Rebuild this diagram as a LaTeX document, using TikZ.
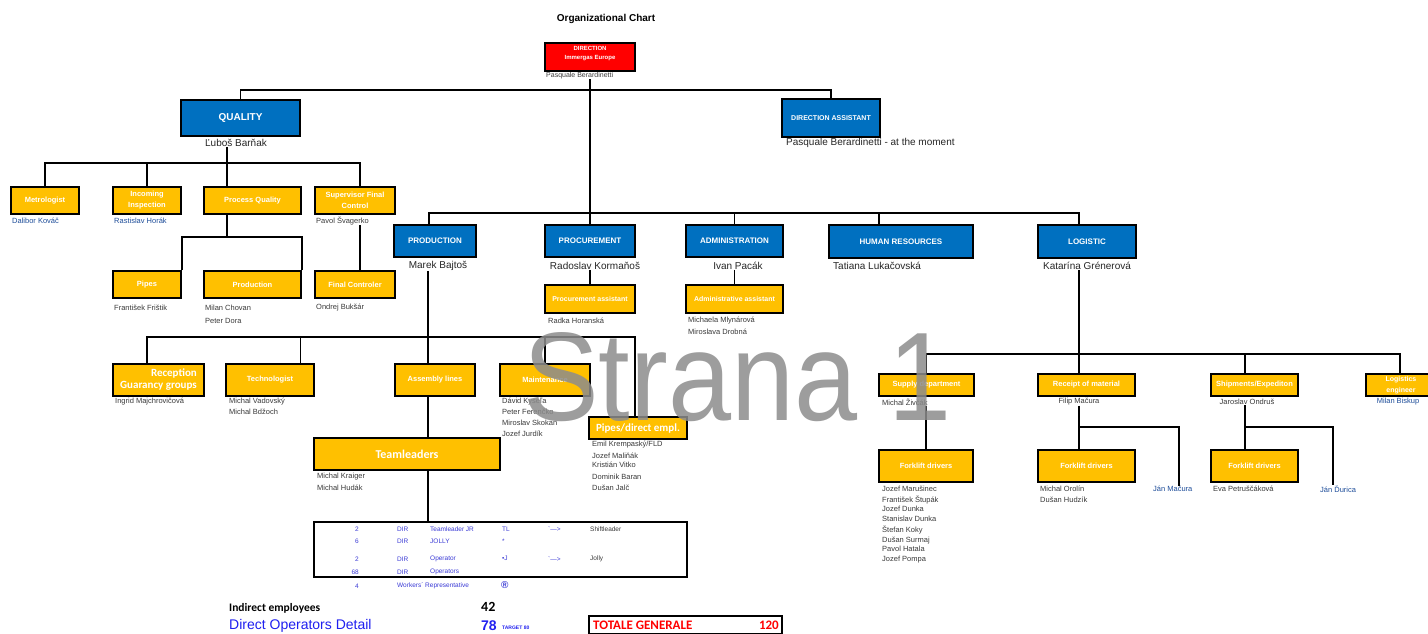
\documentclass[tikz,border=0pt]{standalone}
\usepackage{fontspec}
\setmainfont{Liberation Sans}
\newfontfamily\calibri{Carlito}
\usetikzlibrary{positioning}
\definecolor{boxyellow}{HTML}{FFC000}
\definecolor{boxblue}{HTML}{0070C0}
\definecolor{boxred}{HTML}{FF0000}
\definecolor{namegray}{HTML}{3A3A3A}
\definecolor{marknavy}{HTML}{1F4E9A}
\definecolor{tableblue}{HTML}{3B3BD6}
\definecolor{detailblue}{HTML}{2020F0}

\begin{document}
\begin{tikzpicture}[x=1pt, y=-1pt,
    chartbox/.style={draw=black, line width=2pt, inner sep=0pt, align=center, text=white},
    yellownode/.style={chartbox, fill=boxyellow, font=\bfseries\fontsize{7.5}{11}\selectfont},
    bluenode/.style={chartbox, fill=boxblue, font=\bfseries\fontsize{8}{10}\selectfont},
    namenode/.style={inner sep=0pt, anchor=west, text=namegray, font=\fontsize{7.5}{9}\selectfont},
    bluenamenode/.style={namenode, text=marknavy},
    headnamenode/.style={inner sep=0pt, text=black!85, font=\fontsize{10}{12}\selectfont},
    cellnode/.style={inner sep=0pt, anchor=west, text=tableblue, font=\fontsize{6.5}{8}\selectfont},
    orgline/.style={line width=1.6pt}
]
\useasboundingbox (0,0) rectangle (1428,633);
\fill[white] (0,0) rectangle (1428,633);

\node[inner sep=0pt, font=\bfseries\fontsize{10}{12}\selectfont] (title) at (606,19) {Organizational Chart};

% direction
\node[chartbox, fill=boxred, minimum width=90pt, minimum height=28pt, font=\bfseries\fontsize{6}{9}\selectfont] (dir) at (590,57) {DIRECTION\\Immergas Europe\\\mbox{}};
\node[namenode, font=\fontsize{7}{8}\selectfont] (dirname) at (546,76) {Pasquale Berardinetti};
\node[bluenode, minimum width=98pt, minimum height=38pt, font=\bfseries\fontsize{7}{9}\selectfont] (dirass) at (831,118) {DIRECTION ASSISTANT};
\node[headnamenode, anchor=west] (dirassname) at (786,143) {Pasquale Berardinetti - at the moment};
\node[bluenode, minimum width=119pt, minimum height=36pt, font=\bfseries\fontsize{10}{12}\selectfont] (quality) at (240.5,118) {QUALITY};
\node[headnamenode] (qname) at (236,143) {Ľuboš Barňak};

% quality
\node[yellownode, minimum width=68pt, minimum height=27pt] (metro) at (45,200.5) {Metrologist};
\node[yellownode, minimum width=68pt, minimum height=27pt] (incoming) at (147,200.5) {Incoming\\Inspection};
\node[yellownode, minimum width=97pt, minimum height=27pt] (procq) at (252.5,200.5) {Process Quality};
\node[yellownode, minimum width=80pt, minimum height=27pt] (superv) at (355,200.5) {Supervisor Final\\Control};
\node[bluenamenode] (metroname) at (12,221) {Dalibor Kováč};
\node[bluenamenode] (incname) at (114,221) {Rastislav Horák};
\node[namenode] (svname) at (316,221) {Pavol Švagerko};
\node[yellownode, minimum width=68pt, minimum height=27pt] (pipesq) at (147,284.5) {Pipes};
\node[yellownode, minimum width=97pt, minimum height=27pt] (prodq) at (252.5,284.5) {Production};
\node[yellownode, minimum width=80pt, minimum height=27pt] (finalc) at (355,284.5) {Final Controler};
\node[namenode] (pipesname) at (114,308) {František Frištik};
\node[namenode] (prodqname1) at (205,308) {Milan Chovan};
\node[namenode] (prodqname2) at (205,321) {Peter Dora};
\node[namenode] (finalname) at (316,308) {Ondrej Bukšár};

\coordinate (qbus) at (227,163);
\coordinate (pqbus) at (227,237);
\draw[orgline] (quality.north) |- (589,90) -| (dirass.north);
\draw[orgline] ([xshift=-9pt]qname.south) -- (qbus);
\draw[orgline] (metro.north) |- (qbus) -| ([xshift=5pt]superv.north);
\draw[orgline] (incoming.north) -- (incoming.north |- qbus);
\draw[orgline] (qbus) -- (qbus |- procq.north);
\draw[orgline] (qbus |- procq.south) -- (pqbus);
\draw[orgline] (pipesq.north east) |- (pqbus) -| (prodq.north east);
\draw[orgline] ([xshift=5pt]superv.south |- svname.south) -- ([xshift=5pt]finalc.north);

% departments
\node[bluenode, minimum width=82pt, minimum height=32pt] (production) at (435,241) {PRODUCTION};
\node[bluenode, minimum width=90pt, minimum height=32pt] (procurement) at (590,241) {PROCUREMENT};
\node[bluenode, minimum width=97pt, minimum height=32pt] (admin) at (734.5,241) {ADMINISTRATION};
\node[bluenode, minimum width=144pt, minimum height=33pt] (hr) at (901,241.5) {HUMAN RESOURCES};
\node[bluenode, minimum width=98pt, minimum height=33pt] (logistic) at (1087,241.5) {LOGISTIC};
\node[headnamenode] (prodname) at (438,266) {Marek Bajtoš};
\node[headnamenode] (procname) at (595,266) {Radoslav Kormaňoš};
\node[headnamenode] (adminname) at (738,266) {Ivan Pacák};
\node[headnamenode, anchor=west] (hrname) at (833,266) {Tatiana Lukačovská};
\node[headnamenode] (logname) at (1087,266) {Katarína Grénerová};
\node[yellownode, minimum width=90pt, minimum height=28pt, font=\bfseries\fontsize{7}{9}\selectfont] (procass) at (590,299) {Procurement assistant};
\node[yellownode, minimum width=97pt, minimum height=28pt, font=\bfseries\fontsize{7}{9}\selectfont] (adminass) at (734.5,299) {Administrative assistant};
\node[namenode] (procassname) at (548,321) {Radka Horanská};
\node[namenode] (adminassname1) at (688,321) {Michaela Mlynárová};
\node[namenode] (adminassname2) at (688,332) {Miroslava Drobná};

\coordinate (mbus) at (589,213);
\draw[orgline] (dir.south |- dirname.south) -- (procurement.north);
\draw[orgline] ([xshift=-6pt]production.north) |- (mbus) -| ([xshift=-8pt]logistic.north);
\draw[orgline] (admin.north) -- (admin.north |- mbus);
\draw[orgline] ([xshift=-22pt]hr.north) -- ([xshift=-22pt]hr.north |- mbus);
\draw[orgline] (procass.north |- procname.south) -- (procass.north);
\draw[orgline] (adminass.north |- adminname.south) -- (adminass.north);

% production
\node[yellownode, minimum width=91pt, minimum height=32pt, align=right, font=\calibri\bfseries\fontsize{11}{12}\selectfont] (reception) at (158.5,380) {Reception\\Guarancy groups};
\node[yellownode, minimum width=88pt, minimum height=32pt] (techno) at (270,380) {Technologist};
\node[yellownode, minimum width=80pt, minimum height=32pt] (assembly) at (435,380) {Assembly lines};
\node[yellownode, minimum width=90pt, minimum height=32pt] (mainten) at (545,380) {Maintenance};
\node[yellownode, minimum width=98pt, minimum height=22pt, font=\calibri\bfseries\fontsize{11}{12}\selectfont] (pipesd) at (638,428) {Pipes/direct empl.};
\node[yellownode, minimum width=186pt, minimum height=32pt, font=\calibri\bfseries\fontsize{12}{14}\selectfont] (teaml) at (407,454) {Teamleaders};
\node[namenode] (recname) at (115,402) {Ingrid Majchrovičová};
\node[namenode] (techname1) at (229,402) {Michal Vadovský};
\node[namenode] (techname2) at (229,412) {Michal Bdžoch};
\node[namenode] (maintname1) at (502,402) {Dávid Kyseľa};
\node[namenode] (maintname2) at (502,412) {Peter Ferenčko};
\node[namenode] (maintname3) at (502,423) {Miroslav Skokan};
\node[namenode] (maintname4) at (502,434) {Jozef Jurdík};
\node[namenode] (pipesdname1) at (592,445) {Emil Krempaský/FLD};
\node[namenode] (pipesdname2) at (592,456) {Jozef Maliňák};
\node[namenode] (pipesdname3) at (592,465) {Kristián Vitko};
\node[namenode] (pipesdname4) at (592,477) {Dominik Baran};
\node[namenode] (pipesdname5) at (592,488) {Dušan Jalč};
\node[namenode] (teamname1) at (317,477) {Michal Kraiger};
\node[namenode] (teamname2) at (317,488) {Michal Hudák};

\coordinate (pbus) at (428,337);
\draw[orgline] ([xshift=-7pt]assembly.north |- prodname.south) -- ([xshift=-7pt]assembly.north);
\draw[orgline] ([xshift=-11.5pt]reception.north) |- (pbus) -| ([xshift=-3pt]pipesd.north);
\draw[orgline] ([xshift=30.5pt]techno.north) -- ([xshift=30.5pt]techno.north |- pbus);
\draw[orgline] (mainten.north) -- (mainten.north |- pbus);
\draw[orgline] ([xshift=-7pt]assembly.south) -- ([xshift=-7pt]assembly.south |- teaml.north);

% direct operators
\node[draw, line width=2pt, inner sep=0pt, minimum width=373pt, minimum height=55pt] (table) at (500.5,549.5) {};
\draw[orgline] ([xshift=-7pt]assembly.south |- teaml.south) -- ([xshift=-7pt]assembly.south |- table.north);
\node[cellnode, anchor=east] (row1n) at (359,529) {2};
\node[cellnode] (row1d) at (397,529) {DIR};
\node[cellnode] (row1r) at (430,529) {Teamleader JR};
\node[cellnode] (row1m) at (502,529) {TL};
\node[cellnode] (row1a) at (548,529) {\textasciigrave{}---\textgreater{}};
\node[cellnode, text=namegray] (row1s) at (590,529) {Shiftleader};
\node[cellnode, anchor=east] (row2n) at (359,541) {6};
\node[cellnode] (row2d) at (397,541) {DIR};
\node[cellnode] (row2r) at (430,541) {JOLLY};
\node[cellnode] (row2m) at (502,541) {*};
\node[cellnode, anchor=east] (row3n) at (359,559) {2};
\node[cellnode] (row3d) at (397,559) {DIR};
\node[cellnode] (row3r) at (430,559) {Operator};
\node[cellnode] (row3m) at (502,558) {\textbullet J};
\node[cellnode] (row3a) at (548,559) {\textasciigrave{}---\textgreater{}};
\node[cellnode, text=namegray] (row3s) at (590,559) {Jolly};
\node[cellnode, anchor=east] (row4n) at (359,572) {68};
\node[cellnode] (row4d) at (397,572) {DIR};
\node[cellnode] (row4r) at (430,572) {Operators};
\node[cellnode, anchor=east] (row5n) at (359,586) {4};
\node[cellnode] (row5r) at (397,586) {Workers´ Representative};
\node[cellnode, font=\bfseries\fontsize{10}{12}\selectfont] (row5m) at (501,585) {®};

% totals
\node[inner sep=0pt, anchor=west, font=\calibri\bfseries\fontsize{11.5}{13}\selectfont] (indirect) at (229,608) {Indirect employees};
\node[inner sep=0pt, anchor=west, font=\calibri\bfseries\fontsize{14}{16}\selectfont] (indirectnum) at (481,607) {42};
\node[inner sep=0pt, anchor=west, text=detailblue, font=\fontsize{14}{16}\selectfont] (direct) at (229,626) {Direct Operators Detail};
\node[inner sep=0pt, anchor=west, text=detailblue, font=\bfseries\fontsize{14}{16}\selectfont] (directnum) at (481,626) {78};
\node[inner sep=0pt, anchor=west, text=detailblue, font=\bfseries\fontsize{5}{6}\selectfont] (target) at (502,628) {TARGET 80};
\node[draw, line width=2pt, inner sep=0pt, minimum width=193pt, minimum height=18pt] (totale) at (685.5,625) {};
\node[inner sep=0pt, anchor=west, text=boxred, font=\calibri\bfseries\fontsize{13}{15}\selectfont] (totaletext) at (593,625.5) {TOTALE GENERALE};
\node[inner sep=0pt, anchor=east, text=boxred, font=\calibri\bfseries\fontsize{13}{15}\selectfont] (totalenum) at (779,625.5) {120};

% logistic
\node[yellownode, minimum width=95pt, minimum height=22pt] (supply) at (926.5,385) {Supply department};
\node[yellownode, minimum width=97pt, minimum height=22pt] (receipt) at (1086.5,385) {Receipt of material};
\node[yellownode, minimum width=87pt, minimum height=22pt] (shipm) at (1254.5,385) {Shipments/Expediton};
\node[yellownode, minimum width=70pt, minimum height=22pt, font=\bfseries\fontsize{7}{11}\selectfont] (logeng) at (1401,385) {Logistics\\engineer};
\node[namenode] (supname) at (882,402) {Michal Živčák};
\node[namenode, anchor=center] (recmname) at (1079,402) {Filip Mačura};
\node[namenode, anchor=center] (shipname) at (1247,402) {Jaroslav Ondruš};
\node[bluenamenode, anchor=center] (engname) at (1398,402) {Milan Biskup};
\node[yellownode, minimum width=94pt, minimum height=32pt] (fork1) at (926,466) {Forklift drivers};
\node[yellownode, minimum width=97pt, minimum height=32pt] (fork2) at (1086.5,466) {Forklift drivers};
\node[yellownode, minimum width=87pt, minimum height=32pt] (fork3) at (1254.5,466) {Forklift drivers};
\node[namenode] (fork1name1) at (882,489) {Jozef Marušinec};
\node[namenode] (fork1name2) at (882,500) {František Štupák};
\node[namenode] (fork1name3) at (882,509) {Jozef Dunka};
\node[namenode] (fork1name4) at (882,519) {Stanislav Dunka};
\node[namenode] (fork1name5) at (882,530) {Štefan Koky};
\node[namenode] (fork1name6) at (882,541) {Dušan Surmaj};
\node[namenode] (fork1name7) at (882,549) {Pavol Hatala};
\node[namenode] (fork1name8) at (882,560) {Jozef Pompa};
\node[namenode] (fork2name1) at (1040,489) {Michal Orolín};
\node[namenode] (fork2name2) at (1040,500) {Dušan Hudzík};
\node[bluenamenode] (macura) at (1153,489) {Ján Mačura};
\node[namenode] (fork3name1) at (1213,489) {Eva Petruščáková};
\node[bluenamenode] (durica) at (1320,489) {Ján Ďurica};

\coordinate (lbus) at (1079,354);
\coordinate (rbranch) at (1079,427);
\coordinate (sbranch) at (1245,427);
\draw[orgline] ([xshift=-8pt]logistic.south |- logname.south) -- ([xshift=-7.5pt]receipt.north);
\draw[orgline] (supply.north) |- (lbus) -| ([xshift=-1pt]logeng.north);
\draw[orgline] ([xshift=-9.5pt]shipm.north) -- ([xshift=-9.5pt]shipm.north |- lbus);
\draw[orgline] (fork1.north |- supname.south) -- (fork1.north);
\draw[orgline] ([xshift=-7.5pt]fork2.north |- recmname.south) -- ([xshift=-7.5pt]fork2.north);
\draw[orgline] ([xshift=-9.5pt]fork3.north |- shipname.south) -- ([xshift=-9.5pt]fork3.north);
\draw[orgline] (rbranch) -| ([xshift=6pt]macura.north);
\draw[orgline] (sbranch) -| ([xshift=-5pt]durica.north);

% page mark
\node[inner sep=0pt, anchor=base west, text=black!45, opacity=0.85, font=\fontsize{126}{126}\selectfont] (strana) at (523,420) {\scalebox{0.9}[1]{Strana 1}};
\end{tikzpicture}
\end{document}
